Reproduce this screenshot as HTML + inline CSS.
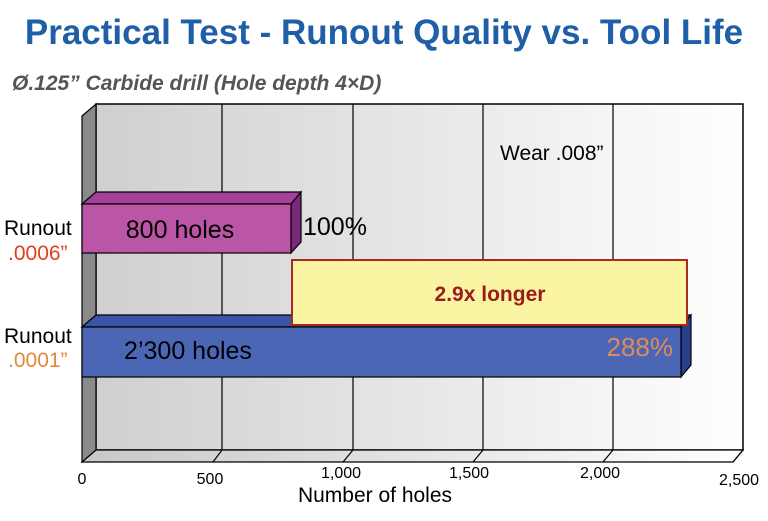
<!DOCTYPE html>
<html><head><style>
body{margin:0;width:768px;height:516px;background:#fff;overflow:hidden;font-family:"Liberation Sans",Arial,sans-serif}
</style></head><body>
<svg width="768" height="516" xmlns="http://www.w3.org/2000/svg" font-family="Liberation Sans, Arial, sans-serif">
<defs>
<linearGradient id="bg" x1="0" x2="1" y1="0" y2="0">
<stop offset="0" stop-color="#cfcfcf"/><stop offset="1" stop-color="#ffffff"/></linearGradient>
<linearGradient id="fl" x1="0" x2="1"><stop offset="0" stop-color="#c8c8c8"/><stop offset="1" stop-color="#ffffff"/></linearGradient>
</defs>
<text x="384" y="44" text-anchor="middle" font-size="35" font-weight="bold" fill="#1f5fa8">Practical Test - Runout Quality vs. Tool Life</text>
<text x="12" y="90" font-size="21" font-weight="bold" font-style="italic" fill="#555">Ø.125” Carbide drill (Hole depth 4×D)</text>
<rect x="96" y="104" width="647" height="346" fill="url(#bg)" stroke="#000" stroke-width="1.5"/>
<g stroke="#000" stroke-width="1.2">
<line x1="222" y1="104" x2="222" y2="450"/><line x1="353" y1="104" x2="353" y2="450"/>
<line x1="483" y1="104" x2="483" y2="450"/><line x1="613" y1="104" x2="613" y2="450"/>
</g>
<polygon points="96,450 743,450 733,462 82,462" fill="url(#fl)" stroke="#000" stroke-width="1.2"/>
<polygon points="82,116 96,104 96,450 82,462" fill="#8a8a8a" stroke="#000" stroke-width="1.2"/>
<g stroke="#000" stroke-width="1.2">
<line x1="213" y1="462" x2="222" y2="450"/><line x1="343" y1="462" x2="353" y2="450"/>
<line x1="473" y1="462" x2="483" y2="450"/><line x1="603" y1="462" x2="613" y2="450"/><line x1="733" y1="462" x2="743" y2="450"/>
</g>
<g font-size="16" fill="#000" text-anchor="middle">
<text x="82" y="484">0</text><text x="210" y="484">500</text><text x="341" y="478">1,000</text>
<text x="469" y="478">1,500</text><text x="600" y="478">2,000</text><text x="739" y="485">2,500</text>
</g>
<text x="375" y="502" text-anchor="middle" font-size="21">Number of holes</text>
<text x="500" y="160" font-size="21">Wear .008”</text>
<polygon points="82,204 96,192 301,192 291,204" fill="#a6409a" stroke="#000" stroke-width="1.2"/>
<polygon points="291,204 301,192 301,242 291,253" fill="#7a2a7a" stroke="#000" stroke-width="1.2"/>
<rect x="82" y="204" width="209" height="49" fill="#bb55a6" stroke="#000" stroke-width="1.2"/>
<text x="180" y="238" text-anchor="middle" font-size="25">800 holes</text>
<text x="303" y="235" font-size="25">100%</text>
<polygon points="82,327 96,315 691,315 681,327" fill="#3a55a8" stroke="#000" stroke-width="1.2"/>
<polygon points="681,327 691,315 691,365 681,377" fill="#2a3f8c" stroke="#000" stroke-width="1.2"/>
<rect x="82" y="327" width="599" height="50" fill="#4a66b4" stroke="#000" stroke-width="1.2"/>
<text x="188" y="359" text-anchor="middle" font-size="25">2’300 holes</text>
<text x="673" y="356" text-anchor="end" font-size="26" fill="#e08a5a">288%</text>
<rect x="292" y="260" width="395" height="65" fill="#fbf4a2" stroke="#a52a20" stroke-width="2"/>
<text x="490" y="301" text-anchor="middle" font-size="21" font-weight="bold" fill="#9b1c1c">2.9x longer</text>
<text x="4" y="235" font-size="21">Runout</text>
<text x="8" y="260" font-size="21" fill="#e0401a">.0006”</text>
<text x="4" y="343" font-size="21">Runout</text>
<text x="8" y="367" font-size="21" fill="#e08a3a">.0001”</text>
</svg>
</body></html>
